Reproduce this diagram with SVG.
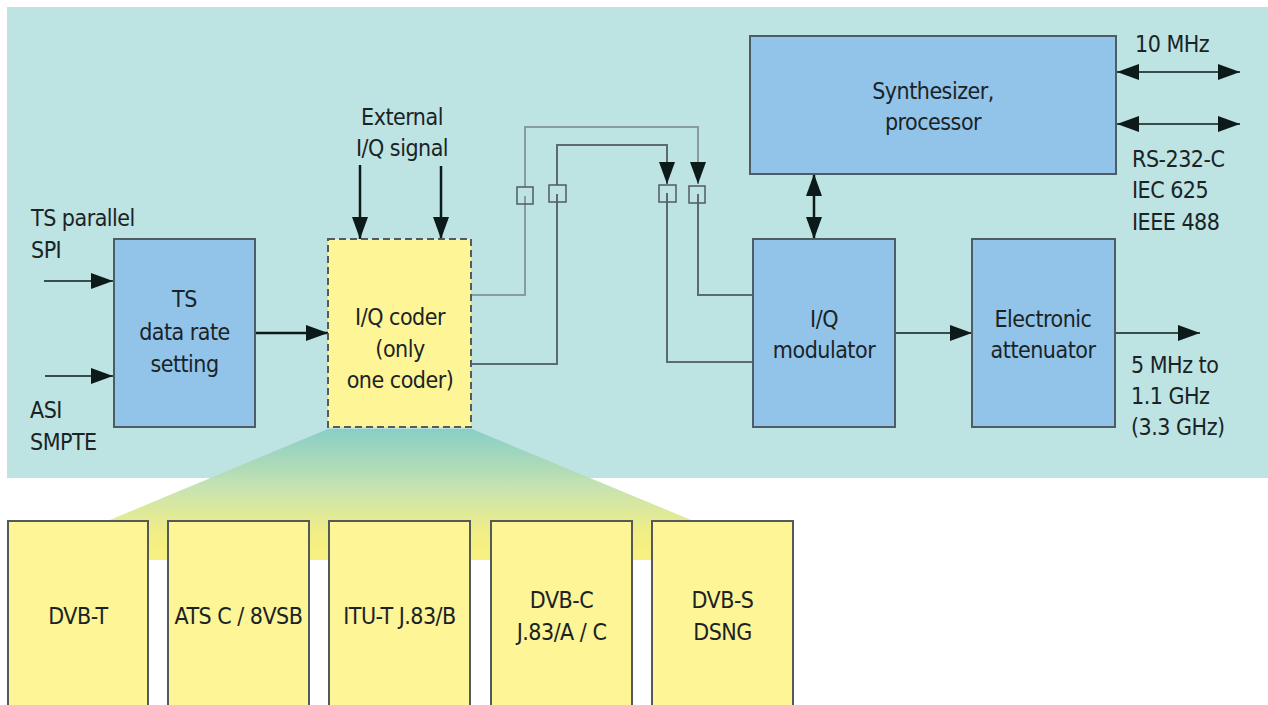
<svg xmlns="http://www.w3.org/2000/svg" width="1268" height="705" viewBox="0 0 1268 705">
<defs>
<style>
text{font-family:"Liberation Sans Narrow","DejaVu Sans Condensed","Liberation Sans",sans-serif;font-size:23px;letter-spacing:-0.5px;fill:#1a2326}
.c{text-anchor:middle}
.blue{fill:#92c4e9;stroke:#4d5d63;stroke-width:2}
.yel{fill:#fdf596;stroke:#55595a;stroke-width:2}
.arr{stroke:#0d1a1a;stroke-width:1.5;fill:none}
.arrb{stroke:#0d1a1a;stroke-width:2.5;fill:none}
.g1{stroke:#8a9b9c;stroke-width:2;fill:none}
.g2{stroke:#5c6b6d;stroke-width:2;fill:none}
.sq{fill:none;stroke:#505c5e;stroke-width:1.5}
</style>
<marker id="ah" viewBox="0 0 22 16" markerWidth="22" markerHeight="16" markerUnits="userSpaceOnUse" refX="22" refY="8" orient="auto-start-reverse"><path d="M0,0 L22,8 L0,16 z" fill="#0d1a1a"/></marker>
<marker id="ahs" viewBox="0 0 16 22" markerWidth="16" markerHeight="22" markerUnits="userSpaceOnUse" refX="8" refY="22" orient="0"><path d="M0,0 L16,0 L8,22 z" fill="#0d1a1a"/></marker>
<linearGradient id="fan" x1="0" y1="429" x2="0" y2="560" gradientUnits="userSpaceOnUse">
<stop offset="0" stop-color="#86cdc5"/>
<stop offset="0.45" stop-color="#c4e2ad"/>
<stop offset="0.8" stop-color="#f2ed7e"/>
<stop offset="1" stop-color="#f8f07a"/>
</linearGradient>
</defs>
<rect x="0" y="0" width="1268" height="705" fill="#ffffff"/>
<rect x="7" y="7" width="1261" height="471" fill="#bde3e2"/>
<polygon points="328,429 472,429 696,522 696,560 105,560 105,522" fill="url(#fan)" opacity="0.95"/>

<g id="connectors">
<line class="arr" x1="44" y1="281" x2="113" y2="281" marker-end="url(#ah)"/>
<line class="arr" x1="45" y1="376" x2="113" y2="376" marker-end="url(#ah)"/>
<line class="arrb" x1="255" y1="333" x2="328" y2="333" marker-end="url(#ah)"/>
<line class="arrb" x1="360" y1="165" x2="360" y2="239" marker-end="url(#ahs)"/>
<line class="arrb" x1="441" y1="166" x2="441" y2="239" marker-end="url(#ahs)"/>
<line class="arrb" x1="814" y1="174" x2="814" y2="239" marker-start="url(#ah)" marker-end="url(#ah)"/>
<line class="arr" x1="895" y1="333" x2="972" y2="333" marker-end="url(#ah)"/>
<line class="arr" x1="1116" y1="333" x2="1200" y2="333" marker-end="url(#ah)"/>
<line class="arr" x1="1117" y1="72" x2="1240" y2="72" marker-start="url(#ah)" marker-end="url(#ah)"/>
<line class="arr" x1="1117" y1="124" x2="1240" y2="124" marker-start="url(#ah)" marker-end="url(#ah)"/>
<polyline class="g1" points="472,295 525,295 525,196"/>
<polyline class="g1" points="525,187 525,127 698,127 698,184" marker-end="url(#ahs)"/>
<polyline class="g2" points="698,194 698,295 753,295"/>
<polyline class="g2" points="472,364 557,364 557,194"/>
<polyline class="g2" points="557,185 557,145 667,145 667,184" marker-end="url(#ahs)"/>
<polyline class="g2" points="667,193 667,362 753,362"/>
<rect class="sq" x="517" y="187" width="16" height="17"/>
<rect class="sq" x="549" y="185" width="17" height="17"/>
<rect class="sq" x="659" y="185" width="17" height="17"/>
<rect class="sq" x="689" y="186" width="16" height="17"/>
</g>

<g id="ts-rate">
<rect class="blue" x="114" y="239" width="141" height="188"/>
<text class="c" x="184.5" y="307">TS</text>
<text class="c" x="184.5" y="340">data rate</text>
<text class="c" x="184.5" y="372">setting</text>
</g>
<g id="iq-coder">
<rect x="328" y="239" width="143" height="188" fill="#fdf596" stroke="#555a5a" stroke-width="2" stroke-dasharray="7,4"/>
<text class="c" x="400" y="325">I/Q coder</text>
<text class="c" x="400" y="357">(only</text>
<text class="c" x="400" y="388">one coder)</text>
</g>
<g id="synth">
<rect class="blue" x="750" y="36" width="366" height="138"/>
<text class="c" x="933" y="99">Synthesizer,</text>
<text class="c" x="933" y="130">processor</text>
</g>
<g id="iq-mod">
<rect class="blue" x="753" y="239" width="142" height="188"/>
<text class="c" x="824" y="327">I/Q</text>
<text class="c" x="824" y="358">modulator</text>
</g>
<g id="attenuator">
<rect class="blue" x="972" y="239" width="143" height="188"/>
<text class="c" x="1043" y="327">Electronic</text>
<text class="c" x="1043" y="358">attenuator</text>
</g>

<g id="labels">
<text x="31" y="226">TS parallel</text>
<text x="31" y="258">SPI</text>
<text x="30" y="418">ASI</text>
<text x="30" y="450">SMPTE</text>
<text class="c" x="402" y="125">External</text>
<text class="c" x="402" y="156">I/Q signal</text>
<text x="1135" y="52">10 MHz</text>
<text x="1132" y="167">RS-232-C</text>
<text x="1132" y="198">IEC 625</text>
<text x="1132" y="230">IEEE 488</text>
<text x="1131" y="373">5 MHz to</text>
<text x="1131" y="404">1.1 GHz</text>
<text x="1131" y="435">(3.3 GHz)</text>
</g>

<g id="dvb-t">
<rect class="yel" x="8" y="521" width="140" height="200"/>
<text class="c" x="78" y="624">DVB-T</text>
</g>
<g id="atsc">
<rect class="yel" x="168" y="521" width="141" height="200"/>
<text class="c" x="238.5" y="624">ATS C / 8VSB</text>
</g>
<g id="itu-t">
<rect class="yel" x="329" y="521" width="141" height="200"/>
<text class="c" x="399.5" y="624">ITU-T J.83/B</text>
</g>
<g id="dvb-c">
<rect class="yel" x="491" y="521" width="141" height="200"/>
<text class="c" x="561.5" y="608">DVB-C</text>
<text class="c" x="561.5" y="640">J.83/A / C</text>
</g>
<g id="dvb-s">
<rect class="yel" x="652" y="521" width="141" height="200"/>
<text class="c" x="722.5" y="608">DVB-S</text>
<text class="c" x="722.5" y="640">DSNG</text>
</g>
</svg>
